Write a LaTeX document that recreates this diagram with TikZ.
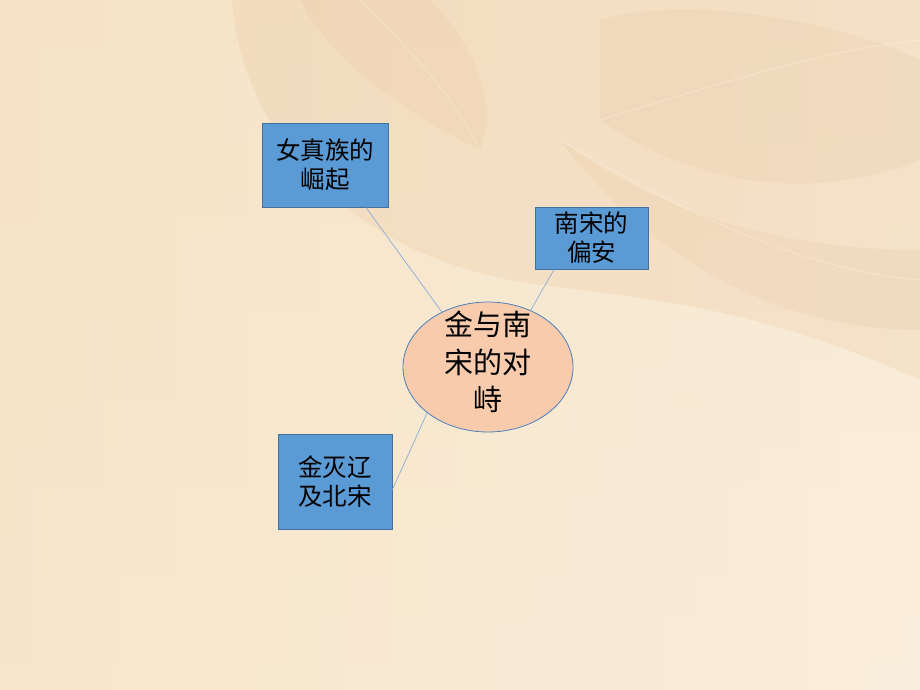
\documentclass[tikz,border=0pt]{standalone}
\usepackage{fontspec}
\newfontfamily\cjk{Noto Sans CJK SC}
\usetikzlibrary{shapes.geometric}
\definecolor{bgA}{HTML}{F6E3C5}
\definecolor{bgB}{HTML}{FAF0E0}
\definecolor{leaf}{HTML}{E6C096}
\definecolor{boxfill}{HTML}{5B9BD5}
\definecolor{boxline}{HTML}{41719C}
\definecolor{ellfill}{HTML}{F8CBAD}
\definecolor{ellline}{HTML}{4A7EBB}
\definecolor{conn}{HTML}{7BA7D6}
\begin{document}
\begin{tikzpicture}[x=1pt,y=-1pt,
  topic/.style={rectangle,draw=boxline,line width=0.8pt,fill=boxfill,inner sep=0pt,
    align=center,font=\cjk\fontsize{24.5}{29}\selectfont,text=black},
  hub/.style={ellipse,draw=ellline,line width=0.8pt,fill=ellfill,inner sep=0pt,
    minimum width=170pt,minimum height=130pt},
  hubtext/.style={align=center,inner sep=0pt,font=\cjk\fontsize{29}{37.5}\selectfont,text=black},
  link/.style={draw=conn,line width=0.6pt}]
\useasboundingbox (0,0) rectangle (920,690);
% background
\shade[top color=bgA,bottom color=bgB!60!bgA] (0,0) rectangle (920,690);
\shade[left color=bgA,right color=bgB,opacity=0.6] (0,0) rectangle (920,690);
\begin{scope}[opacity=0.22]
  \fill[leaf] (232,0) .. controls (240,120) and (330,230) .. (470,270)
     .. controls (560,300) and (700,280) .. (920,380) -- (920,0) -- cycle;
\end{scope}
\begin{scope}[opacity=0.18]
  \fill[leaf] (600,20) .. controls (700,-10) and (860,30) .. (920,60)
     -- (920,160) .. controls (820,200) and (700,190) .. (600,120) -- cycle;
  \fill[leaf] (300,0) .. controls (330,60) and (400,110) .. (480,150)
     .. controls (500,100) and (470,40) .. (430,0) -- cycle;
  \fill[leaf] (560,140) .. controls (640,200) and (760,250) .. (920,250)
     -- (920,330) .. controls (780,330) and (650,260) .. (560,140) -- cycle;
\end{scope}
\begin{scope}[draw=white,opacity=0.3,line width=0.8pt]
  \draw (600,120) .. controls (700,90) and (820,50) .. (920,40);
  \draw (480,150) .. controls (450,90) and (400,40) .. (360,0);
  \draw (560,140) .. controls (680,210) and (800,270) .. (920,280);
\end{scope}
% nodes
\node[hub] (c) at (488,367) {};
\node[hubtext] (ct) at (488,362) {金与南\\宋的对\\峙};
\node[topic,minimum width=126pt,minimum height=84pt] (b1) at (325,165) {女真族的\\崛起};
\node[topic,minimum width=113pt,minimum height=62pt] (b2) at (591.5,238) {南宋的\\偏安};
\node[topic,minimum width=114pt,minimum height=95pt] (b3) at (335,481.5) {金灭辽\\及北宋};
% connectors
\draw[link] (b1.-46) -- (c.130);
\draw[link] (b2.220) -- (c.53);
\draw[link] (b3.-8) -- (c.217);
\end{tikzpicture}
\end{document}
